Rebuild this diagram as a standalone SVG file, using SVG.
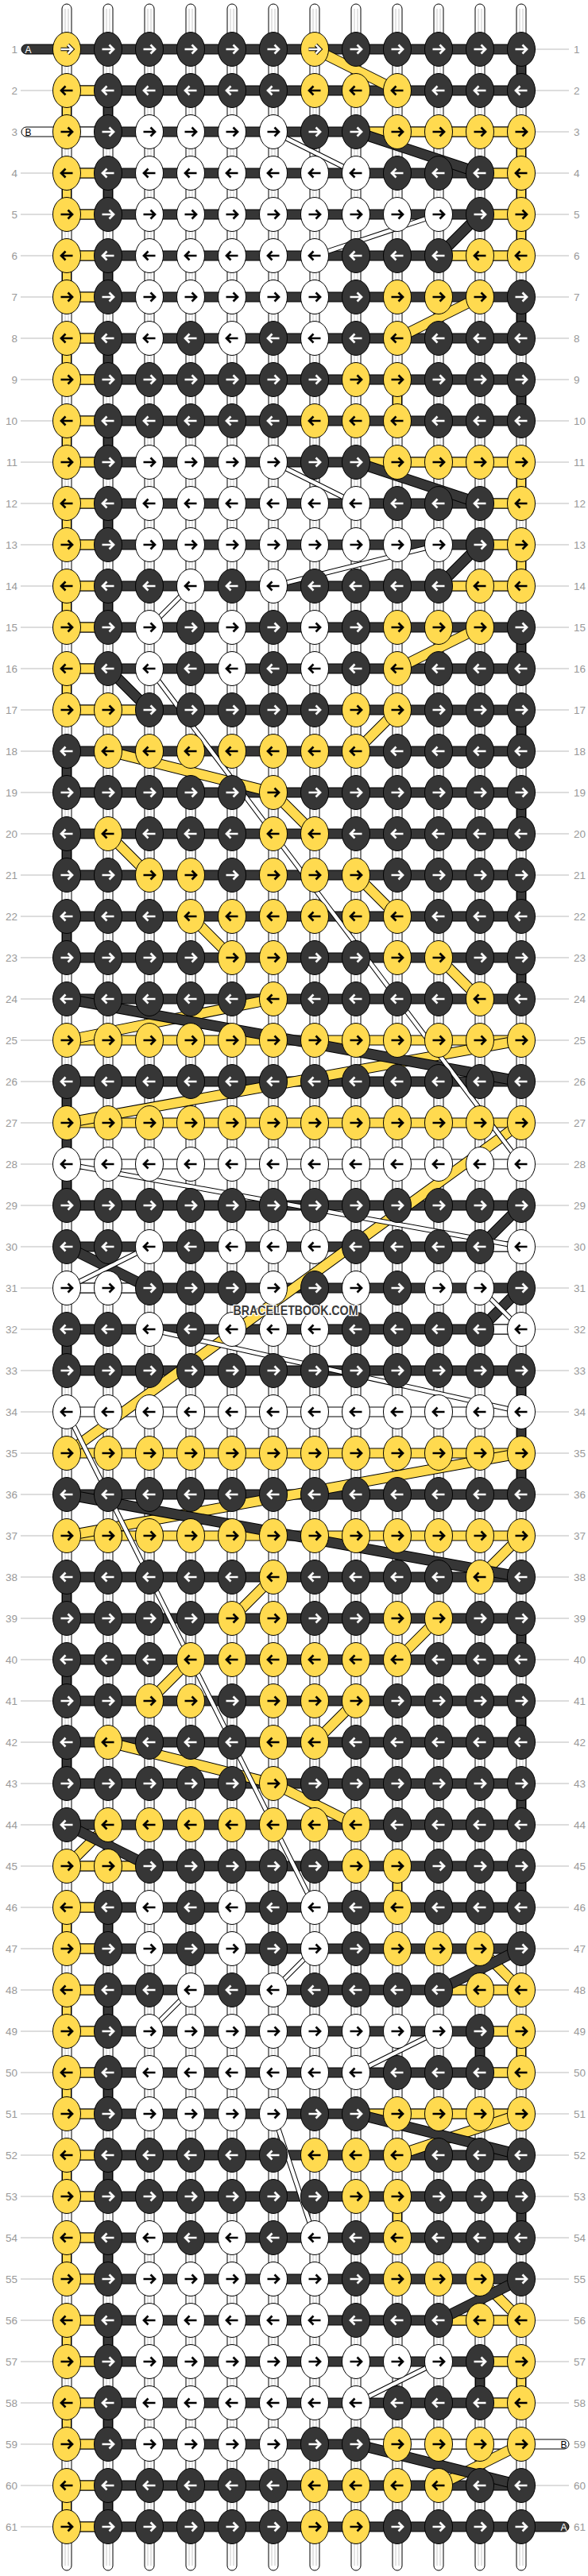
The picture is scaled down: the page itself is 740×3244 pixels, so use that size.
<svg xmlns="http://www.w3.org/2000/svg" xmlns:xlink="http://www.w3.org/1999/xlink" width="740" height="3244" viewBox="0 0 740 3244">
<style>
.vs{fill:#fff;stroke:#000;stroke-width:1}
.vg{fill:none;stroke:#c8c8c8;stroke-width:1}
.bD{fill:#363636;stroke:#000;stroke-width:1}
.bY{fill:#FFDA4F;stroke:#000;stroke-width:1}
.bW{fill:#fff;stroke:#000;stroke-width:1}
.oT{fill:none;stroke:#000;stroke-width:13.5}
.cY{fill:none;stroke:#FFDA4F;stroke-width:11.5}
.cD{fill:none;stroke:#363636;stroke-width:11.5}
.oW{fill:none;stroke:#000;stroke-width:6.5}
.cW{fill:none;stroke:#fff;stroke-width:4.5}
.eY{fill:#FFDA4F;stroke:#000;stroke-width:1}
.eD{fill:#363636;stroke:#000;stroke-width:1}
.eW{fill:#fff;stroke:#000;stroke-width:1}
.ak{fill:none;stroke:#000;stroke-width:2.7}
.aw{fill:none;stroke:#fff;stroke-width:2.7}
.ao{fill:none;stroke:#000;stroke-width:4.6}
.gl{fill:none;stroke:#bbb;stroke-width:1}
.lbl{font-family:"Liberation Sans",Arial,sans-serif;font-size:13.5px;fill:#999}
.sl{font-family:"Liberation Sans",Arial,sans-serif;font-size:12px}
.wm{font-family:"Liberation Sans",Arial,sans-serif;font-size:17px;font-weight:bold;fill:#3a3a3a;stroke:#fff;stroke-width:2.5;paint-order:stroke}
</style>
<defs>
<path id="R" d="M-7.5,0H6M1.5,-5.5L7,0L1.5,5.5"/>
<path id="L" d="M7.5,0H-6M-1.5,-5.5L-7,0L-1.5,5.5"/>
<g id="YR"><ellipse class="eY" rx="17.5" ry="21.5"/><use href="#R" class="ak"/></g>
<g id="YL"><ellipse class="eY" rx="17.5" ry="21.5"/><use href="#L" class="ak"/></g>
<g id="DR"><ellipse class="eD" rx="17.5" ry="21.5"/><use href="#R" class="aw"/></g>
<g id="DL"><ellipse class="eD" rx="17.5" ry="21.5"/><use href="#L" class="aw"/></g>
<g id="WR"><ellipse class="eW" rx="17.5" ry="21.5"/><use href="#R" class="ak"/></g>
<g id="WL"><ellipse class="eW" rx="17.5" ry="21.5"/><use href="#L" class="ak"/></g>
<g id="YRw"><ellipse class="eY" rx="17.5" ry="21.5"/><use href="#R" class="ao"/><use href="#R" class="aw"/></g>
</defs>
<rect width="740" height="3244" fill="#fff"/>
<g id="labels">
<path class="gl" d="M26,114H66M26,218H66M26,270H66M26,322H66M26,374H66M26,426H66M26,478H66M26,530H66M26,582H66M26,634H66M26,686H66M26,738H66M26,790H66M26,842H66M26,894H66M26,946H66M26,998H66M26,1050H66M26,1102H66M26,1154H66M26,1206H66M26,1258H66M26,1310H66M26,1362H66M26,1414H66M26,1466H66M26,1518H66M26,1570H66M26,1622H66M26,1674H66M26,1726H66M26,1778H66M26,1830H66M26,1882H66M26,1934H66M26,1986H66M26,2038H66M26,2090H66M26,2142H66M26,2194H66M26,2246H66M26,2298H66M26,2350H66M26,2402H66M26,2454H66M26,2506H66M26,2558H66M26,2610H66M26,2662H66M26,2714H66M26,2766H66M26,2818H66M26,2870H66M26,2922H66M26,2974H66M26,3026H66M26,3078H66M26,3130H66M26,3182H66
M674,62H716M674,114H716M674,166H716M674,218H716M674,270H716M674,322H716M674,374H716M674,426H716M674,478H716M674,530H716M674,582H716M674,634H716M674,686H716M674,738H716M674,790H716M674,842H716M674,894H716M674,946H716M674,998H716M674,1050H716M674,1102H716M674,1154H716M674,1206H716M674,1258H716M674,1310H716M674,1362H716M674,1414H716M674,1466H716M674,1518H716M674,1570H716M674,1622H716M674,1674H716M674,1726H716M674,1778H716M674,1830H716M674,1882H716M674,1934H716M674,1986H716M674,2038H716M674,2090H716M674,2142H716M674,2194H716M674,2246H716M674,2298H716M674,2350H716M674,2402H716M674,2454H716M674,2506H716M674,2558H716M674,2610H716M674,2662H716M674,2714H716M674,2766H716M674,2818H716M674,2870H716M674,2922H716M674,2974H716M674,3026H716M674,3130H716"/>
<g class="lbl" text-anchor="end">
<text x="22" y="67">1</text><text x="22" y="119">2</text><text x="22" y="171">3</text><text x="22" y="223">4</text><text x="22" y="275">5</text><text x="22" y="327">6</text><text x="22" y="379">7</text><text x="22" y="431">8</text><text x="22" y="483">9</text><text x="22" y="535">10</text>
<text x="22" y="587">11</text><text x="22" y="639">12</text><text x="22" y="691">13</text><text x="22" y="743">14</text><text x="22" y="795">15</text><text x="22" y="847">16</text><text x="22" y="899">17</text><text x="22" y="951">18</text><text x="22" y="1003">19</text><text x="22" y="1055">20</text>
<text x="22" y="1107">21</text><text x="22" y="1159">22</text><text x="22" y="1211">23</text><text x="22" y="1263">24</text><text x="22" y="1315">25</text><text x="22" y="1367">26</text><text x="22" y="1419">27</text><text x="22" y="1471">28</text><text x="22" y="1523">29</text><text x="22" y="1575">30</text>
<text x="22" y="1627">31</text><text x="22" y="1679">32</text><text x="22" y="1731">33</text><text x="22" y="1783">34</text><text x="22" y="1835">35</text><text x="22" y="1887">36</text><text x="22" y="1939">37</text><text x="22" y="1991">38</text><text x="22" y="2043">39</text><text x="22" y="2095">40</text>
<text x="22" y="2147">41</text><text x="22" y="2199">42</text><text x="22" y="2251">43</text><text x="22" y="2303">44</text><text x="22" y="2355">45</text><text x="22" y="2407">46</text><text x="22" y="2459">47</text><text x="22" y="2511">48</text><text x="22" y="2563">49</text><text x="22" y="2615">50</text>
<text x="22" y="2667">51</text><text x="22" y="2719">52</text><text x="22" y="2771">53</text><text x="22" y="2823">54</text><text x="22" y="2875">55</text><text x="22" y="2927">56</text><text x="22" y="2979">57</text><text x="22" y="3031">58</text><text x="22" y="3083">59</text><text x="22" y="3135">60</text><text x="22" y="3187">61</text>
</g>
<g class="lbl">
<text x="722" y="67">1</text><text x="722" y="119">2</text><text x="722" y="171">3</text><text x="722" y="223">4</text><text x="722" y="275">5</text><text x="722" y="327">6</text><text x="722" y="379">7</text><text x="722" y="431">8</text><text x="722" y="483">9</text><text x="722" y="535">10</text>
<text x="722" y="587">11</text><text x="722" y="639">12</text><text x="722" y="691">13</text><text x="722" y="743">14</text><text x="722" y="795">15</text><text x="722" y="847">16</text><text x="722" y="899">17</text><text x="722" y="951">18</text><text x="722" y="1003">19</text><text x="722" y="1055">20</text>
<text x="722" y="1107">21</text><text x="722" y="1159">22</text><text x="722" y="1211">23</text><text x="722" y="1263">24</text><text x="722" y="1315">25</text><text x="722" y="1367">26</text><text x="722" y="1419">27</text><text x="722" y="1471">28</text><text x="722" y="1523">29</text><text x="722" y="1575">30</text>
<text x="722" y="1627">31</text><text x="722" y="1679">32</text><text x="722" y="1731">33</text><text x="722" y="1783">34</text><text x="722" y="1835">35</text><text x="722" y="1887">36</text><text x="722" y="1939">37</text><text x="722" y="1991">38</text><text x="722" y="2043">39</text><text x="722" y="2095">40</text>
<text x="722" y="2147">41</text><text x="722" y="2199">42</text><text x="722" y="2251">43</text><text x="722" y="2303">44</text><text x="722" y="2355">45</text><text x="722" y="2407">46</text><text x="722" y="2459">47</text><text x="722" y="2511">48</text><text x="722" y="2563">49</text><text x="722" y="2615">50</text>
<text x="722" y="2667">51</text><text x="722" y="2719">52</text><text x="722" y="2771">53</text><text x="722" y="2823">54</text><text x="722" y="2875">55</text><text x="722" y="2927">56</text><text x="722" y="2979">57</text><text x="722" y="3031">58</text><text x="722" y="3083">59</text><text x="722" y="3135">60</text><text x="722" y="3187">61</text>
</g>
</g>
<g id="connectors">
<g id="strings">
<rect class="vs" x="78" y="5" width="12" height="3232" rx="6"/><rect class="vs" x="130" y="5" width="12" height="3232" rx="6"/><rect class="vs" x="182" y="5" width="12" height="3232" rx="6"/><rect class="vs" x="234" y="5" width="12" height="3232" rx="6"/><rect class="vs" x="286" y="5" width="12" height="3232" rx="6"/><rect class="vs" x="338" y="5" width="12" height="3232" rx="6"/><rect class="vs" x="390" y="5" width="12" height="3232" rx="6"/><rect class="vs" x="442" y="5" width="12" height="3232" rx="6"/><rect class="vs" x="494" y="5" width="12" height="3232" rx="6"/><rect class="vs" x="546" y="5" width="12" height="3232" rx="6"/><rect class="vs" x="598" y="5" width="12" height="3232" rx="6"/><rect class="vs" x="650" y="5" width="12" height="3232" rx="6"/>
<path class="vg" d="M82,11V3231M86,11V3231M134,11V3231M138,11V3231M186,11V3231M190,11V3231M238,11V3231M242,11V3231M290,11V3231M294,11V3231M342,11V3231M346,11V3231M394,11V3231M398,11V3231M446,11V3231M450,11V3231M498,11V3231M502,11V3231M550,11V3231M554,11V3231M602,11V3231M606,11V3231M654,11V3231M658,11V3231"/>
</g>
<g id="ends">
<rect class="bD" x="27" y="56" width="62" height="12" rx="6"/>
<rect class="bW" x="27" y="160" width="62" height="12" rx="6"/>
<rect class="bW" x="651" y="3072" width="65" height="12" rx="6"/>
<rect class="bD" x="651" y="3176" width="65" height="12" rx="6"/>
<text class="sl" x="31.5" y="66.5" fill="#fff">A</text>
<text class="sl" x="31.5" y="170.5" fill="#000">B</text>
<text class="sl" x="705.5" y="3082.5" fill="#000">B</text>
<text class="sl" x="705.5" y="3186.5" fill="#fff">A</text>
</g>
<g id="rows">
<path class="bD" d="M84,56h572v12h-572zM84,108h572v12h-572zM84,160h572v12h-572zM84,212h572v12h-572zM84,264h572v12h-572zM84,316h572v12h-572zM84,368h572v12h-572zM84,420h572v12h-572zM84,472h572v12h-572zM84,524h572v12h-572zM84,576h572v12h-572zM84,628h572v12h-572zM84,680h572v12h-572zM84,732h572v12h-572zM84,784h572v12h-572zM84,836h572v12h-572zM84,888h572v12h-572zM84,940h572v12h-572zM84,992h572v12h-572zM84,1044h572v12h-572zM84,1096h572v12h-572zM84,1148h572v12h-572zM84,1200h572v12h-572zM84,1252h572v12h-572zM84,1356h572v12h-572zM84,1512h572v12h-572zM84,1564h572v12h-572zM84,1616h572v12h-572zM84,1668h572v12h-572zM84,1720h572v12h-572zM84,1876h572v12h-572zM84,1980h572v12h-572zM84,2032h572v12h-572zM84,2084h572v12h-572zM84,2136h572v12h-572zM84,2188h572v12h-572zM84,2240h572v12h-572zM84,2292h572v12h-572zM84,2344h572v12h-572zM84,2396h572v12h-572zM84,2448h572v12h-572zM84,2500h572v12h-572zM84,2552h572v12h-572zM84,2604h572v12h-572zM84,2656h572v12h-572zM84,2708h572v12h-572zM84,2760h572v12h-572zM84,2812h572v12h-572zM84,2864h572v12h-572zM84,2916h572v12h-572zM84,2968h572v12h-572zM84,3020h572v12h-572zM84,3072h572v12h-572zM84,3124h572v12h-572zM84,3176h572v12h-572z"/>
<path class="bY" d="M84,1304h572v12h-572zM84,1408h572v12h-572zM84,1824h572v12h-572zM84,1928h572v12h-572z
M84,108h52v12h-52zM448,160h208v12h-208zM84,212h52v12h-52zM604,212h52v12h-52zM84,264h52v12h-52zM604,264h52v12h-52zM84,316h52v12h-52zM552,316h104v12h-104zM84,368h52v12h-52zM84,420h52v12h-52zM84,472h52v12h-52zM84,524h52v12h-52zM84,576h52v12h-52zM448,576h208v12h-208zM84,628h52v12h-52zM604,628h52v12h-52zM84,680h52v12h-52zM604,680h52v12h-52zM84,732h52v12h-52zM552,732h104v12h-104zM84,784h52v12h-52zM84,836h52v12h-52zM84,888h104v12h-104z
M84,2344h104v12h-104zM84,2396h52v12h-52zM84,2448h52v12h-52zM84,2500h52v12h-52zM552,2500h104v12h-104zM84,2552h52v12h-52zM604,2552h52v12h-52zM84,2604h52v12h-52zM604,2604h52v12h-52zM84,2656h52v12h-52zM448,2656h208v12h-208zM84,2708h52v12h-52zM84,2760h52v12h-52zM84,2812h52v12h-52zM84,2864h52v12h-52zM84,2916h52v12h-52zM552,2916h104v12h-104zM84,2968h52v12h-52zM604,2968h52v12h-52zM84,3020h52v12h-52zM604,3020h52v12h-52zM84,3072h52v12h-52zM84,3124h52v12h-52zM84,3176h52v12h-52z"/>
<path class="bW" d="M84,1460h572v12h-572zM84,1772h572v12h-572zM84,160h52v12h-52zM604,1564h52v12h-52zM84,1616h104v12h-104zM604,1668h52v12h-52zM448,3072h208v12h-208z"/>
</g>
<g id="stubs">
<path class="bY" d="M78.5,114h11v52h-11zM78.5,218h11v52h-11zM78.5,322h11v52h-11zM78.5,426h11v52h-11zM78.5,530h11v52h-11zM78.5,634h11v52h-11zM78.5,738h11v52h-11zM78.5,842h11v52h-11zM78.5,2402h11v52h-11zM78.5,2506h11v52h-11zM78.5,2610h11v52h-11zM78.5,2714h11v52h-11zM78.5,2818h11v52h-11zM78.5,2922h11v52h-11zM78.5,3026h11v52h-11zM78.5,3130h11v52h-11z
M650.5,166h11v52h-11zM650.5,218h11v52h-11zM650.5,270h11v52h-11zM650.5,582h11v52h-11zM650.5,686h11v52h-11zM650.5,2558h11v52h-11zM650.5,2974h11v52h-11z
M494.5,478h11v52h-11zM494.5,2350h11v52h-11zM494.5,2766h11v52h-11z"/>
<path class="bD" d="M130.5,114h11v52h-11zM130.5,218h11v52h-11zM130.5,322h11v52h-11zM130.5,426h11v52h-11zM130.5,530h11v52h-11zM130.5,634h11v52h-11zM130.5,738h11v52h-11zM130.5,2402h11v52h-11zM130.5,2506h11v52h-11zM130.5,2610h11v52h-11zM130.5,2714h11v52h-11zM130.5,2818h11v52h-11zM130.5,2922h11v52h-11zM130.5,3026h11v52h-11zM130.5,3130h11v52h-11z
M78.5,946h11v52h-11zM78.5,1050h11v52h-11zM78.5,1154h11v52h-11zM78.5,1362h11v52h-11zM78.5,1414h11v52h-11zM78.5,1466h11v52h-11zM78.5,1674h11v52h-11zM78.5,1986h11v52h-11zM78.5,2090h11v52h-11zM78.5,2194h11v52h-11z
M650.5,62h11v52h-11zM650.5,374h11v52h-11zM650.5,478h11v52h-11zM650.5,790h11v52h-11zM650.5,894h11v52h-11zM650.5,998h11v52h-11zM650.5,1102h11v52h-11zM650.5,1206h11v52h-11zM650.5,1726h11v52h-11zM650.5,1778h11v52h-11zM650.5,1830h11v52h-11zM650.5,2038h11v52h-11zM650.5,2142h11v52h-11zM650.5,2246h11v52h-11zM650.5,2350h11v52h-11zM650.5,2766h11v52h-11z
M598.5,2558h11v52h-11zM598.5,2974h11v52h-11z"/>
</g>
<g id="diagonals">
<path class="oT" d="M396,62L500,114M604,374L500,426M604,790L500,842M500,894L448,946M136,946L344,998M344,998L396,1050M136,1050L188,1102M448,1102L500,1154M240,1154L292,1206M552,1206L604,1258M84,1310L344,1258M84,1414L656,1310M656,1414L84,1830M656,1830L84,1934M656,1934L604,1986M292,2038L344,1986M500,2090L552,2038M240,2090L188,2142M448,2142L396,2194M136,2194L344,2246M344,2246L448,2298M84,2350L136,2298M604,2454L656,2506M500,2714L656,2662M604,2870L656,2922M552,3130L656,3078"/>
<path class="cY" d="M396,62L500,114M604,374L500,426M604,790L500,842M500,894L448,946M136,946L344,998M344,998L396,1050M136,1050L188,1102M448,1102L500,1154M240,1154L292,1206M552,1206L604,1258M84,1310L344,1258M84,1414L656,1310M656,1414L84,1830M656,1830L84,1934M656,1934L604,1986M292,2038L344,1986M500,2090L552,2038M240,2090L188,2142M448,2142L396,2194M136,2194L344,2246M344,2246L448,2298M84,2350L136,2298M604,2454L656,2506M500,2714L656,2662M604,2870L656,2922M552,3130L656,3078"/>
<path class="oT" d="M448,166L604,218M604,270L552,322M448,582L604,634M604,686L552,738M136,842L188,894M84,1258L656,1362M656,1518L604,1570M84,1570L188,1622M656,1622L604,1674M84,1882L656,1986M84,2298L188,2350M656,2454L552,2506M448,2662L656,2714M656,2870L552,2922M448,3078L656,3130"/>
<path class="cD" d="M448,166L604,218M604,270L552,322M448,582L604,634M604,686L552,738M136,842L188,894M84,1258L656,1362M656,1518L604,1570M84,1570L188,1622M656,1622L604,1674M84,1882L656,1986M84,2298L188,2350M656,2454L552,2506M448,2662L656,2714M656,2870L552,2922M448,3078L656,3130"/>
<path class="oW" d="M344,166L448,218M552,270L396,322M344,582L448,634M552,686L344,738M240,738L188,790M188,842L656,1466M84,1466L656,1570M84,1622L188,1570M604,1622L656,1674M188,1674L656,1778M84,1778L396,2402M396,2454L344,2506M240,2506L188,2558M552,2558L448,2610M344,2662L396,2818M552,2974L448,3026"/>
<path class="cW" d="M344,166L448,218M552,270L396,322M344,582L448,634M552,686L344,738M240,738L188,790M188,842L656,1466M84,1466L656,1570M84,1622L188,1570M604,1622L656,1674M188,1674L656,1778M84,1778L396,2402M396,2454L344,2506M240,2506L188,2558M552,2558L448,2610M344,2662L396,2818M552,2974L448,3026"/>
</g>
</g>
<g id="knots">
<g id="k1-1"><use href="#YRw" x="84" y="62"/></g><g id="k1-2"><use href="#DR" x="136" y="62"/></g><g id="k1-3"><use href="#DR" x="188" y="62"/></g><g id="k1-4"><use href="#DR" x="240" y="62"/></g><g id="k1-5"><use href="#DR" x="292" y="62"/></g><g id="k1-6"><use href="#DR" x="344" y="62"/></g><g id="k1-7"><use href="#YRw" x="396" y="62"/></g><g id="k1-8"><use href="#DR" x="448" y="62"/></g><g id="k1-9"><use href="#DR" x="500" y="62"/></g><g id="k1-10"><use href="#DR" x="552" y="62"/></g><g id="k1-11"><use href="#DR" x="604" y="62"/></g><g id="k1-12"><use href="#DR" x="656" y="62"/></g>
<g id="k2-1"><use href="#YL" x="84" y="114"/></g><g id="k2-2"><use href="#DL" x="136" y="114"/></g><g id="k2-3"><use href="#DL" x="188" y="114"/></g><g id="k2-4"><use href="#DL" x="240" y="114"/></g><g id="k2-5"><use href="#DL" x="292" y="114"/></g><g id="k2-6"><use href="#DL" x="344" y="114"/></g><g id="k2-7"><use href="#YL" x="396" y="114"/></g><g id="k2-8"><use href="#YL" x="448" y="114"/></g><g id="k2-9"><use href="#YL" x="500" y="114"/></g><g id="k2-10"><use href="#DL" x="552" y="114"/></g><g id="k2-11"><use href="#DL" x="604" y="114"/></g><g id="k2-12"><use href="#DL" x="656" y="114"/></g>
<g id="k3-1"><use href="#YR" x="84" y="166"/></g><g id="k3-2"><use href="#DR" x="136" y="166"/></g><g id="k3-3"><use href="#WR" x="188" y="166"/></g><g id="k3-4"><use href="#WR" x="240" y="166"/></g><g id="k3-5"><use href="#WR" x="292" y="166"/></g><g id="k3-6"><use href="#WR" x="344" y="166"/></g><g id="k3-7"><use href="#DR" x="396" y="166"/></g><g id="k3-8"><use href="#DR" x="448" y="166"/></g><g id="k3-9"><use href="#YR" x="500" y="166"/></g><g id="k3-10"><use href="#YR" x="552" y="166"/></g><g id="k3-11"><use href="#YR" x="604" y="166"/></g><g id="k3-12"><use href="#YR" x="656" y="166"/></g>
<g id="k4-1"><use href="#YL" x="84" y="218"/></g><g id="k4-2"><use href="#DL" x="136" y="218"/></g><g id="k4-3"><use href="#WL" x="188" y="218"/></g><g id="k4-4"><use href="#WL" x="240" y="218"/></g><g id="k4-5"><use href="#WL" x="292" y="218"/></g><g id="k4-6"><use href="#WL" x="344" y="218"/></g><g id="k4-7"><use href="#WL" x="396" y="218"/></g><g id="k4-8"><use href="#WL" x="448" y="218"/></g><g id="k4-9"><use href="#DL" x="500" y="218"/></g><g id="k4-10"><use href="#DL" x="552" y="218"/></g><g id="k4-11"><use href="#DL" x="604" y="218"/></g><g id="k4-12"><use href="#YL" x="656" y="218"/></g>
<g id="k5-1"><use href="#YR" x="84" y="270"/></g><g id="k5-2"><use href="#DR" x="136" y="270"/></g><g id="k5-3"><use href="#WR" x="188" y="270"/></g><g id="k5-4"><use href="#WR" x="240" y="270"/></g><g id="k5-5"><use href="#WR" x="292" y="270"/></g><g id="k5-6"><use href="#WR" x="344" y="270"/></g><g id="k5-7"><use href="#WR" x="396" y="270"/></g><g id="k5-8"><use href="#WR" x="448" y="270"/></g><g id="k5-9"><use href="#WR" x="500" y="270"/></g><g id="k5-10"><use href="#WR" x="552" y="270"/></g><g id="k5-11"><use href="#DR" x="604" y="270"/></g><g id="k5-12"><use href="#YR" x="656" y="270"/></g>
<g id="k6-1"><use href="#YL" x="84" y="322"/></g><g id="k6-2"><use href="#DL" x="136" y="322"/></g><g id="k6-3"><use href="#WL" x="188" y="322"/></g><g id="k6-4"><use href="#WL" x="240" y="322"/></g><g id="k6-5"><use href="#WL" x="292" y="322"/></g><g id="k6-6"><use href="#WL" x="344" y="322"/></g><g id="k6-7"><use href="#WL" x="396" y="322"/></g><g id="k6-8"><use href="#DL" x="448" y="322"/></g><g id="k6-9"><use href="#DL" x="500" y="322"/></g><g id="k6-10"><use href="#DL" x="552" y="322"/></g><g id="k6-11"><use href="#YL" x="604" y="322"/></g><g id="k6-12"><use href="#YL" x="656" y="322"/></g>
<g id="k7-1"><use href="#YR" x="84" y="374"/></g><g id="k7-2"><use href="#DR" x="136" y="374"/></g><g id="k7-3"><use href="#WR" x="188" y="374"/></g><g id="k7-4"><use href="#WR" x="240" y="374"/></g><g id="k7-5"><use href="#WR" x="292" y="374"/></g><g id="k7-6"><use href="#WR" x="344" y="374"/></g><g id="k7-7"><use href="#WR" x="396" y="374"/></g><g id="k7-8"><use href="#DR" x="448" y="374"/></g><g id="k7-9"><use href="#YR" x="500" y="374"/></g><g id="k7-10"><use href="#YR" x="552" y="374"/></g><g id="k7-11"><use href="#YR" x="604" y="374"/></g><g id="k7-12"><use href="#DR" x="656" y="374"/></g>
<g id="k8-1"><use href="#YL" x="84" y="426"/></g><g id="k8-2"><use href="#DL" x="136" y="426"/></g><g id="k8-3"><use href="#WL" x="188" y="426"/></g><g id="k8-4"><use href="#DL" x="240" y="426"/></g><g id="k8-5"><use href="#WL" x="292" y="426"/></g><g id="k8-6"><use href="#DL" x="344" y="426"/></g><g id="k8-7"><use href="#WL" x="396" y="426"/></g><g id="k8-8"><use href="#DL" x="448" y="426"/></g><g id="k8-9"><use href="#YL" x="500" y="426"/></g><g id="k8-10"><use href="#DL" x="552" y="426"/></g><g id="k8-11"><use href="#DL" x="604" y="426"/></g><g id="k8-12"><use href="#DL" x="656" y="426"/></g>
<g id="k9-1"><use href="#YR" x="84" y="478"/></g><g id="k9-2"><use href="#DR" x="136" y="478"/></g><g id="k9-3"><use href="#DR" x="188" y="478"/></g><g id="k9-4"><use href="#DR" x="240" y="478"/></g><g id="k9-5"><use href="#DR" x="292" y="478"/></g><g id="k9-6"><use href="#DR" x="344" y="478"/></g><g id="k9-7"><use href="#DR" x="396" y="478"/></g><g id="k9-8"><use href="#YR" x="448" y="478"/></g><g id="k9-9"><use href="#YR" x="500" y="478"/></g><g id="k9-10"><use href="#DR" x="552" y="478"/></g><g id="k9-11"><use href="#DR" x="604" y="478"/></g><g id="k9-12"><use href="#DR" x="656" y="478"/></g>
<g id="k10-1"><use href="#YL" x="84" y="530"/></g><g id="k10-2"><use href="#DL" x="136" y="530"/></g><g id="k10-3"><use href="#DL" x="188" y="530"/></g><g id="k10-4"><use href="#DL" x="240" y="530"/></g><g id="k10-5"><use href="#DL" x="292" y="530"/></g><g id="k10-6"><use href="#DL" x="344" y="530"/></g><g id="k10-7"><use href="#YL" x="396" y="530"/></g><g id="k10-8"><use href="#YL" x="448" y="530"/></g><g id="k10-9"><use href="#YL" x="500" y="530"/></g><g id="k10-10"><use href="#DL" x="552" y="530"/></g><g id="k10-11"><use href="#DL" x="604" y="530"/></g><g id="k10-12"><use href="#DL" x="656" y="530"/></g>
<g id="k11-1"><use href="#YR" x="84" y="582"/></g><g id="k11-2"><use href="#DR" x="136" y="582"/></g><g id="k11-3"><use href="#WR" x="188" y="582"/></g><g id="k11-4"><use href="#WR" x="240" y="582"/></g><g id="k11-5"><use href="#WR" x="292" y="582"/></g><g id="k11-6"><use href="#WR" x="344" y="582"/></g><g id="k11-7"><use href="#DR" x="396" y="582"/></g><g id="k11-8"><use href="#DR" x="448" y="582"/></g><g id="k11-9"><use href="#YR" x="500" y="582"/></g><g id="k11-10"><use href="#YR" x="552" y="582"/></g><g id="k11-11"><use href="#YR" x="604" y="582"/></g><g id="k11-12"><use href="#YR" x="656" y="582"/></g>
<g id="k12-1"><use href="#YL" x="84" y="634"/></g><g id="k12-2"><use href="#DL" x="136" y="634"/></g><g id="k12-3"><use href="#WL" x="188" y="634"/></g><g id="k12-4"><use href="#WL" x="240" y="634"/></g><g id="k12-5"><use href="#WL" x="292" y="634"/></g><g id="k12-6"><use href="#WL" x="344" y="634"/></g><g id="k12-7"><use href="#WL" x="396" y="634"/></g><g id="k12-8"><use href="#WL" x="448" y="634"/></g><g id="k12-9"><use href="#DL" x="500" y="634"/></g><g id="k12-10"><use href="#DL" x="552" y="634"/></g><g id="k12-11"><use href="#DL" x="604" y="634"/></g><g id="k12-12"><use href="#YL" x="656" y="634"/></g>
<g id="k13-1"><use href="#YR" x="84" y="686"/></g><g id="k13-2"><use href="#DR" x="136" y="686"/></g><g id="k13-3"><use href="#WR" x="188" y="686"/></g><g id="k13-4"><use href="#WR" x="240" y="686"/></g><g id="k13-5"><use href="#WR" x="292" y="686"/></g><g id="k13-6"><use href="#WR" x="344" y="686"/></g><g id="k13-7"><use href="#WR" x="396" y="686"/></g><g id="k13-8"><use href="#WR" x="448" y="686"/></g><g id="k13-9"><use href="#WR" x="500" y="686"/></g><g id="k13-10"><use href="#WR" x="552" y="686"/></g><g id="k13-11"><use href="#DR" x="604" y="686"/></g><g id="k13-12"><use href="#YR" x="656" y="686"/></g>
<g id="k14-1"><use href="#YL" x="84" y="738"/></g><g id="k14-2"><use href="#DL" x="136" y="738"/></g><g id="k14-3"><use href="#DL" x="188" y="738"/></g><g id="k14-4"><use href="#WL" x="240" y="738"/></g><g id="k14-5"><use href="#DL" x="292" y="738"/></g><g id="k14-6"><use href="#WL" x="344" y="738"/></g><g id="k14-7"><use href="#DL" x="396" y="738"/></g><g id="k14-8"><use href="#DL" x="448" y="738"/></g><g id="k14-9"><use href="#DL" x="500" y="738"/></g><g id="k14-10"><use href="#DL" x="552" y="738"/></g><g id="k14-11"><use href="#YL" x="604" y="738"/></g><g id="k14-12"><use href="#YL" x="656" y="738"/></g>
<g id="k15-1"><use href="#YR" x="84" y="790"/></g><g id="k15-2"><use href="#DR" x="136" y="790"/></g><g id="k15-3"><use href="#WR" x="188" y="790"/></g><g id="k15-4"><use href="#DR" x="240" y="790"/></g><g id="k15-5"><use href="#WR" x="292" y="790"/></g><g id="k15-6"><use href="#DR" x="344" y="790"/></g><g id="k15-7"><use href="#WR" x="396" y="790"/></g><g id="k15-8"><use href="#DR" x="448" y="790"/></g><g id="k15-9"><use href="#YR" x="500" y="790"/></g><g id="k15-10"><use href="#YR" x="552" y="790"/></g><g id="k15-11"><use href="#YR" x="604" y="790"/></g><g id="k15-12"><use href="#DR" x="656" y="790"/></g>
<g id="k16-1"><use href="#YL" x="84" y="842"/></g><g id="k16-2"><use href="#DL" x="136" y="842"/></g><g id="k16-3"><use href="#WL" x="188" y="842"/></g><g id="k16-4"><use href="#DL" x="240" y="842"/></g><g id="k16-5"><use href="#WL" x="292" y="842"/></g><g id="k16-6"><use href="#DL" x="344" y="842"/></g><g id="k16-7"><use href="#WL" x="396" y="842"/></g><g id="k16-8"><use href="#DL" x="448" y="842"/></g><g id="k16-9"><use href="#YL" x="500" y="842"/></g><g id="k16-10"><use href="#DL" x="552" y="842"/></g><g id="k16-11"><use href="#DL" x="604" y="842"/></g><g id="k16-12"><use href="#DL" x="656" y="842"/></g>
<g id="k17-1"><use href="#YR" x="84" y="894"/></g><g id="k17-2"><use href="#YR" x="136" y="894"/></g><g id="k17-3"><use href="#DR" x="188" y="894"/></g><g id="k17-4"><use href="#DR" x="240" y="894"/></g><g id="k17-5"><use href="#DR" x="292" y="894"/></g><g id="k17-6"><use href="#DR" x="344" y="894"/></g><g id="k17-7"><use href="#DR" x="396" y="894"/></g><g id="k17-8"><use href="#YR" x="448" y="894"/></g><g id="k17-9"><use href="#YR" x="500" y="894"/></g><g id="k17-10"><use href="#DR" x="552" y="894"/></g><g id="k17-11"><use href="#DR" x="604" y="894"/></g><g id="k17-12"><use href="#DR" x="656" y="894"/></g>
<g id="k18-1"><use href="#DL" x="84" y="946"/></g><g id="k18-2"><use href="#YL" x="136" y="946"/></g><g id="k18-3"><use href="#YL" x="188" y="946"/></g><g id="k18-4"><use href="#YL" x="240" y="946"/></g><g id="k18-5"><use href="#YL" x="292" y="946"/></g><g id="k18-6"><use href="#YL" x="344" y="946"/></g><g id="k18-7"><use href="#YL" x="396" y="946"/></g><g id="k18-8"><use href="#YL" x="448" y="946"/></g><g id="k18-9"><use href="#DL" x="500" y="946"/></g><g id="k18-10"><use href="#DL" x="552" y="946"/></g><g id="k18-11"><use href="#DL" x="604" y="946"/></g><g id="k18-12"><use href="#DL" x="656" y="946"/></g>
<g id="k19-1"><use href="#DR" x="84" y="998"/></g><g id="k19-2"><use href="#DR" x="136" y="998"/></g><g id="k19-3"><use href="#DR" x="188" y="998"/></g><g id="k19-4"><use href="#DR" x="240" y="998"/></g><g id="k19-5"><use href="#DR" x="292" y="998"/></g><g id="k19-6"><use href="#YR" x="344" y="998"/></g><g id="k19-7"><use href="#DR" x="396" y="998"/></g><g id="k19-8"><use href="#DR" x="448" y="998"/></g><g id="k19-9"><use href="#DR" x="500" y="998"/></g><g id="k19-10"><use href="#DR" x="552" y="998"/></g><g id="k19-11"><use href="#DR" x="604" y="998"/></g><g id="k19-12"><use href="#DR" x="656" y="998"/></g>
<g id="k20-1"><use href="#DL" x="84" y="1050"/></g><g id="k20-2"><use href="#YL" x="136" y="1050"/></g><g id="k20-3"><use href="#DL" x="188" y="1050"/></g><g id="k20-4"><use href="#DL" x="240" y="1050"/></g><g id="k20-5"><use href="#DL" x="292" y="1050"/></g><g id="k20-6"><use href="#YL" x="344" y="1050"/></g><g id="k20-7"><use href="#YL" x="396" y="1050"/></g><g id="k20-8"><use href="#DL" x="448" y="1050"/></g><g id="k20-9"><use href="#DL" x="500" y="1050"/></g><g id="k20-10"><use href="#DL" x="552" y="1050"/></g><g id="k20-11"><use href="#DL" x="604" y="1050"/></g><g id="k20-12"><use href="#DL" x="656" y="1050"/></g>
<g id="k21-1"><use href="#DR" x="84" y="1102"/></g><g id="k21-2"><use href="#DR" x="136" y="1102"/></g><g id="k21-3"><use href="#YR" x="188" y="1102"/></g><g id="k21-4"><use href="#YR" x="240" y="1102"/></g><g id="k21-5"><use href="#DR" x="292" y="1102"/></g><g id="k21-6"><use href="#YR" x="344" y="1102"/></g><g id="k21-7"><use href="#YR" x="396" y="1102"/></g><g id="k21-8"><use href="#YR" x="448" y="1102"/></g><g id="k21-9"><use href="#DR" x="500" y="1102"/></g><g id="k21-10"><use href="#DR" x="552" y="1102"/></g><g id="k21-11"><use href="#DR" x="604" y="1102"/></g><g id="k21-12"><use href="#DR" x="656" y="1102"/></g>
<g id="k22-1"><use href="#DL" x="84" y="1154"/></g><g id="k22-2"><use href="#DL" x="136" y="1154"/></g><g id="k22-3"><use href="#DL" x="188" y="1154"/></g><g id="k22-4"><use href="#YL" x="240" y="1154"/></g><g id="k22-5"><use href="#YL" x="292" y="1154"/></g><g id="k22-6"><use href="#YL" x="344" y="1154"/></g><g id="k22-7"><use href="#YL" x="396" y="1154"/></g><g id="k22-8"><use href="#YL" x="448" y="1154"/></g><g id="k22-9"><use href="#YL" x="500" y="1154"/></g><g id="k22-10"><use href="#DL" x="552" y="1154"/></g><g id="k22-11"><use href="#DL" x="604" y="1154"/></g><g id="k22-12"><use href="#DL" x="656" y="1154"/></g>
<g id="k23-1"><use href="#DR" x="84" y="1206"/></g><g id="k23-2"><use href="#DR" x="136" y="1206"/></g><g id="k23-3"><use href="#DR" x="188" y="1206"/></g><g id="k23-4"><use href="#DR" x="240" y="1206"/></g><g id="k23-5"><use href="#YR" x="292" y="1206"/></g><g id="k23-6"><use href="#YR" x="344" y="1206"/></g><g id="k23-7"><use href="#DR" x="396" y="1206"/></g><g id="k23-8"><use href="#DR" x="448" y="1206"/></g><g id="k23-9"><use href="#YR" x="500" y="1206"/></g><g id="k23-10"><use href="#YR" x="552" y="1206"/></g><g id="k23-11"><use href="#DR" x="604" y="1206"/></g><g id="k23-12"><use href="#DR" x="656" y="1206"/></g>
<g id="k24-1"><use href="#DL" x="84" y="1258"/></g><g id="k24-2"><use href="#DL" x="136" y="1258"/></g><g id="k24-3"><use href="#DL" x="188" y="1258"/></g><g id="k24-4"><use href="#DL" x="240" y="1258"/></g><g id="k24-5"><use href="#DL" x="292" y="1258"/></g><g id="k24-6"><use href="#YL" x="344" y="1258"/></g><g id="k24-7"><use href="#DL" x="396" y="1258"/></g><g id="k24-8"><use href="#DL" x="448" y="1258"/></g><g id="k24-9"><use href="#DL" x="500" y="1258"/></g><g id="k24-10"><use href="#DL" x="552" y="1258"/></g><g id="k24-11"><use href="#YL" x="604" y="1258"/></g><g id="k24-12"><use href="#DL" x="656" y="1258"/></g>
<g id="k25-1"><use href="#YR" x="84" y="1310"/></g><g id="k25-2"><use href="#YR" x="136" y="1310"/></g><g id="k25-3"><use href="#YR" x="188" y="1310"/></g><g id="k25-4"><use href="#YR" x="240" y="1310"/></g><g id="k25-5"><use href="#YR" x="292" y="1310"/></g><g id="k25-6"><use href="#YR" x="344" y="1310"/></g><g id="k25-7"><use href="#YR" x="396" y="1310"/></g><g id="k25-8"><use href="#YR" x="448" y="1310"/></g><g id="k25-9"><use href="#YR" x="500" y="1310"/></g><g id="k25-10"><use href="#YR" x="552" y="1310"/></g><g id="k25-11"><use href="#YR" x="604" y="1310"/></g><g id="k25-12"><use href="#YR" x="656" y="1310"/></g>
<g id="k26-1"><use href="#DL" x="84" y="1362"/></g><g id="k26-2"><use href="#DL" x="136" y="1362"/></g><g id="k26-3"><use href="#DL" x="188" y="1362"/></g><g id="k26-4"><use href="#DL" x="240" y="1362"/></g><g id="k26-5"><use href="#DL" x="292" y="1362"/></g><g id="k26-6"><use href="#DL" x="344" y="1362"/></g><g id="k26-7"><use href="#DL" x="396" y="1362"/></g><g id="k26-8"><use href="#DL" x="448" y="1362"/></g><g id="k26-9"><use href="#DL" x="500" y="1362"/></g><g id="k26-10"><use href="#DL" x="552" y="1362"/></g><g id="k26-11"><use href="#DL" x="604" y="1362"/></g><g id="k26-12"><use href="#DL" x="656" y="1362"/></g>
<g id="k27-1"><use href="#YR" x="84" y="1414"/></g><g id="k27-2"><use href="#YR" x="136" y="1414"/></g><g id="k27-3"><use href="#YR" x="188" y="1414"/></g><g id="k27-4"><use href="#YR" x="240" y="1414"/></g><g id="k27-5"><use href="#YR" x="292" y="1414"/></g><g id="k27-6"><use href="#YR" x="344" y="1414"/></g><g id="k27-7"><use href="#YR" x="396" y="1414"/></g><g id="k27-8"><use href="#YR" x="448" y="1414"/></g><g id="k27-9"><use href="#YR" x="500" y="1414"/></g><g id="k27-10"><use href="#YR" x="552" y="1414"/></g><g id="k27-11"><use href="#YR" x="604" y="1414"/></g><g id="k27-12"><use href="#YR" x="656" y="1414"/></g>
<g id="k28-1"><use href="#WL" x="84" y="1466"/></g><g id="k28-2"><use href="#WL" x="136" y="1466"/></g><g id="k28-3"><use href="#WL" x="188" y="1466"/></g><g id="k28-4"><use href="#WL" x="240" y="1466"/></g><g id="k28-5"><use href="#WL" x="292" y="1466"/></g><g id="k28-6"><use href="#WL" x="344" y="1466"/></g><g id="k28-7"><use href="#WL" x="396" y="1466"/></g><g id="k28-8"><use href="#WL" x="448" y="1466"/></g><g id="k28-9"><use href="#WL" x="500" y="1466"/></g><g id="k28-10"><use href="#WL" x="552" y="1466"/></g><g id="k28-11"><use href="#WL" x="604" y="1466"/></g><g id="k28-12"><use href="#WL" x="656" y="1466"/></g>
<g id="k29-1"><use href="#DR" x="84" y="1518"/></g><g id="k29-2"><use href="#DR" x="136" y="1518"/></g><g id="k29-3"><use href="#DR" x="188" y="1518"/></g><g id="k29-4"><use href="#DR" x="240" y="1518"/></g><g id="k29-5"><use href="#DR" x="292" y="1518"/></g><g id="k29-6"><use href="#DR" x="344" y="1518"/></g><g id="k29-7"><use href="#DR" x="396" y="1518"/></g><g id="k29-8"><use href="#DR" x="448" y="1518"/></g><g id="k29-9"><use href="#DR" x="500" y="1518"/></g><g id="k29-10"><use href="#DR" x="552" y="1518"/></g><g id="k29-11"><use href="#DR" x="604" y="1518"/></g><g id="k29-12"><use href="#DR" x="656" y="1518"/></g>
<g id="k30-1"><use href="#DL" x="84" y="1570"/></g><g id="k30-2"><use href="#DL" x="136" y="1570"/></g><g id="k30-3"><use href="#WL" x="188" y="1570"/></g><g id="k30-4"><use href="#DL" x="240" y="1570"/></g><g id="k30-5"><use href="#WL" x="292" y="1570"/></g><g id="k30-6"><use href="#WL" x="344" y="1570"/></g><g id="k30-7"><use href="#WL" x="396" y="1570"/></g><g id="k30-8"><use href="#DL" x="448" y="1570"/></g><g id="k30-9"><use href="#DL" x="500" y="1570"/></g><g id="k30-10"><use href="#DL" x="552" y="1570"/></g><g id="k30-11"><use href="#DL" x="604" y="1570"/></g><g id="k30-12"><use href="#WL" x="656" y="1570"/></g>
<g id="k31-1"><use href="#WR" x="84" y="1622"/></g><g id="k31-2"><use href="#WR" x="136" y="1622"/></g><g id="k31-3"><use href="#DR" x="188" y="1622"/></g><g id="k31-4"><use href="#DR" x="240" y="1622"/></g><g id="k31-5"><use href="#DR" x="292" y="1622"/></g><g id="k31-6"><use href="#WR" x="344" y="1622"/></g><g id="k31-7"><use href="#DR" x="396" y="1622"/></g><g id="k31-8"><use href="#WR" x="448" y="1622"/></g><g id="k31-9"><use href="#DR" x="500" y="1622"/></g><g id="k31-10"><use href="#WR" x="552" y="1622"/></g><g id="k31-11"><use href="#WR" x="604" y="1622"/></g><g id="k31-12"><use href="#DR" x="656" y="1622"/></g>
<g id="k32-1"><use href="#DL" x="84" y="1674"/></g><g id="k32-2"><use href="#DL" x="136" y="1674"/></g><g id="k32-3"><use href="#WL" x="188" y="1674"/></g><g id="k32-4"><use href="#DL" x="240" y="1674"/></g><g id="k32-5"><use href="#WL" x="292" y="1674"/></g><g id="k32-6"><use href="#WL" x="344" y="1674"/></g><g id="k32-7"><use href="#WL" x="396" y="1674"/></g><g id="k32-8"><use href="#DL" x="448" y="1674"/></g><g id="k32-9"><use href="#DL" x="500" y="1674"/></g><g id="k32-10"><use href="#DL" x="552" y="1674"/></g><g id="k32-11"><use href="#DL" x="604" y="1674"/></g><g id="k32-12"><use href="#WL" x="656" y="1674"/></g>
<g id="k33-1"><use href="#DR" x="84" y="1726"/></g><g id="k33-2"><use href="#DR" x="136" y="1726"/></g><g id="k33-3"><use href="#DR" x="188" y="1726"/></g><g id="k33-4"><use href="#DR" x="240" y="1726"/></g><g id="k33-5"><use href="#DR" x="292" y="1726"/></g><g id="k33-6"><use href="#DR" x="344" y="1726"/></g><g id="k33-7"><use href="#DR" x="396" y="1726"/></g><g id="k33-8"><use href="#DR" x="448" y="1726"/></g><g id="k33-9"><use href="#DR" x="500" y="1726"/></g><g id="k33-10"><use href="#DR" x="552" y="1726"/></g><g id="k33-11"><use href="#DR" x="604" y="1726"/></g><g id="k33-12"><use href="#DR" x="656" y="1726"/></g>
<g id="k34-1"><use href="#WL" x="84" y="1778"/></g><g id="k34-2"><use href="#WL" x="136" y="1778"/></g><g id="k34-3"><use href="#WL" x="188" y="1778"/></g><g id="k34-4"><use href="#WL" x="240" y="1778"/></g><g id="k34-5"><use href="#WL" x="292" y="1778"/></g><g id="k34-6"><use href="#WL" x="344" y="1778"/></g><g id="k34-7"><use href="#WL" x="396" y="1778"/></g><g id="k34-8"><use href="#WL" x="448" y="1778"/></g><g id="k34-9"><use href="#WL" x="500" y="1778"/></g><g id="k34-10"><use href="#WL" x="552" y="1778"/></g><g id="k34-11"><use href="#WL" x="604" y="1778"/></g><g id="k34-12"><use href="#WL" x="656" y="1778"/></g>
<g id="k35-1"><use href="#YR" x="84" y="1830"/></g><g id="k35-2"><use href="#YR" x="136" y="1830"/></g><g id="k35-3"><use href="#YR" x="188" y="1830"/></g><g id="k35-4"><use href="#YR" x="240" y="1830"/></g><g id="k35-5"><use href="#YR" x="292" y="1830"/></g><g id="k35-6"><use href="#YR" x="344" y="1830"/></g><g id="k35-7"><use href="#YR" x="396" y="1830"/></g><g id="k35-8"><use href="#YR" x="448" y="1830"/></g><g id="k35-9"><use href="#YR" x="500" y="1830"/></g><g id="k35-10"><use href="#YR" x="552" y="1830"/></g><g id="k35-11"><use href="#YR" x="604" y="1830"/></g><g id="k35-12"><use href="#YR" x="656" y="1830"/></g>
<g id="k36-1"><use href="#DL" x="84" y="1882"/></g><g id="k36-2"><use href="#DL" x="136" y="1882"/></g><g id="k36-3"><use href="#DL" x="188" y="1882"/></g><g id="k36-4"><use href="#DL" x="240" y="1882"/></g><g id="k36-5"><use href="#DL" x="292" y="1882"/></g><g id="k36-6"><use href="#DL" x="344" y="1882"/></g><g id="k36-7"><use href="#DL" x="396" y="1882"/></g><g id="k36-8"><use href="#DL" x="448" y="1882"/></g><g id="k36-9"><use href="#DL" x="500" y="1882"/></g><g id="k36-10"><use href="#DL" x="552" y="1882"/></g><g id="k36-11"><use href="#DL" x="604" y="1882"/></g><g id="k36-12"><use href="#DL" x="656" y="1882"/></g>
<g id="k37-1"><use href="#YR" x="84" y="1934"/></g><g id="k37-2"><use href="#YR" x="136" y="1934"/></g><g id="k37-3"><use href="#YR" x="188" y="1934"/></g><g id="k37-4"><use href="#YR" x="240" y="1934"/></g><g id="k37-5"><use href="#YR" x="292" y="1934"/></g><g id="k37-6"><use href="#YR" x="344" y="1934"/></g><g id="k37-7"><use href="#YR" x="396" y="1934"/></g><g id="k37-8"><use href="#YR" x="448" y="1934"/></g><g id="k37-9"><use href="#YR" x="500" y="1934"/></g><g id="k37-10"><use href="#YR" x="552" y="1934"/></g><g id="k37-11"><use href="#YR" x="604" y="1934"/></g><g id="k37-12"><use href="#YR" x="656" y="1934"/></g>
<g id="k38-1"><use href="#DL" x="84" y="1986"/></g><g id="k38-2"><use href="#DL" x="136" y="1986"/></g><g id="k38-3"><use href="#DL" x="188" y="1986"/></g><g id="k38-4"><use href="#DL" x="240" y="1986"/></g><g id="k38-5"><use href="#DL" x="292" y="1986"/></g><g id="k38-6"><use href="#YL" x="344" y="1986"/></g><g id="k38-7"><use href="#DL" x="396" y="1986"/></g><g id="k38-8"><use href="#DL" x="448" y="1986"/></g><g id="k38-9"><use href="#DL" x="500" y="1986"/></g><g id="k38-10"><use href="#DL" x="552" y="1986"/></g><g id="k38-11"><use href="#YL" x="604" y="1986"/></g><g id="k38-12"><use href="#DL" x="656" y="1986"/></g>
<g id="k39-1"><use href="#DR" x="84" y="2038"/></g><g id="k39-2"><use href="#DR" x="136" y="2038"/></g><g id="k39-3"><use href="#DR" x="188" y="2038"/></g><g id="k39-4"><use href="#DR" x="240" y="2038"/></g><g id="k39-5"><use href="#YR" x="292" y="2038"/></g><g id="k39-6"><use href="#YR" x="344" y="2038"/></g><g id="k39-7"><use href="#DR" x="396" y="2038"/></g><g id="k39-8"><use href="#DR" x="448" y="2038"/></g><g id="k39-9"><use href="#YR" x="500" y="2038"/></g><g id="k39-10"><use href="#YR" x="552" y="2038"/></g><g id="k39-11"><use href="#DR" x="604" y="2038"/></g><g id="k39-12"><use href="#DR" x="656" y="2038"/></g>
<g id="k40-1"><use href="#DL" x="84" y="2090"/></g><g id="k40-2"><use href="#DL" x="136" y="2090"/></g><g id="k40-3"><use href="#DL" x="188" y="2090"/></g><g id="k40-4"><use href="#YL" x="240" y="2090"/></g><g id="k40-5"><use href="#YL" x="292" y="2090"/></g><g id="k40-6"><use href="#YL" x="344" y="2090"/></g><g id="k40-7"><use href="#YL" x="396" y="2090"/></g><g id="k40-8"><use href="#YL" x="448" y="2090"/></g><g id="k40-9"><use href="#YL" x="500" y="2090"/></g><g id="k40-10"><use href="#DL" x="552" y="2090"/></g><g id="k40-11"><use href="#DL" x="604" y="2090"/></g><g id="k40-12"><use href="#DL" x="656" y="2090"/></g>
<g id="k41-1"><use href="#DR" x="84" y="2142"/></g><g id="k41-2"><use href="#DR" x="136" y="2142"/></g><g id="k41-3"><use href="#YR" x="188" y="2142"/></g><g id="k41-4"><use href="#YR" x="240" y="2142"/></g><g id="k41-5"><use href="#DR" x="292" y="2142"/></g><g id="k41-6"><use href="#YR" x="344" y="2142"/></g><g id="k41-7"><use href="#YR" x="396" y="2142"/></g><g id="k41-8"><use href="#YR" x="448" y="2142"/></g><g id="k41-9"><use href="#DR" x="500" y="2142"/></g><g id="k41-10"><use href="#DR" x="552" y="2142"/></g><g id="k41-11"><use href="#DR" x="604" y="2142"/></g><g id="k41-12"><use href="#DR" x="656" y="2142"/></g>
<g id="k42-1"><use href="#DL" x="84" y="2194"/></g><g id="k42-2"><use href="#YL" x="136" y="2194"/></g><g id="k42-3"><use href="#DL" x="188" y="2194"/></g><g id="k42-4"><use href="#DL" x="240" y="2194"/></g><g id="k42-5"><use href="#DL" x="292" y="2194"/></g><g id="k42-6"><use href="#YL" x="344" y="2194"/></g><g id="k42-7"><use href="#YL" x="396" y="2194"/></g><g id="k42-8"><use href="#DL" x="448" y="2194"/></g><g id="k42-9"><use href="#DL" x="500" y="2194"/></g><g id="k42-10"><use href="#DL" x="552" y="2194"/></g><g id="k42-11"><use href="#DL" x="604" y="2194"/></g><g id="k42-12"><use href="#DL" x="656" y="2194"/></g>
<g id="k43-1"><use href="#DR" x="84" y="2246"/></g><g id="k43-2"><use href="#DR" x="136" y="2246"/></g><g id="k43-3"><use href="#DR" x="188" y="2246"/></g><g id="k43-4"><use href="#DR" x="240" y="2246"/></g><g id="k43-5"><use href="#DR" x="292" y="2246"/></g><g id="k43-6"><use href="#YR" x="344" y="2246"/></g><g id="k43-7"><use href="#DR" x="396" y="2246"/></g><g id="k43-8"><use href="#DR" x="448" y="2246"/></g><g id="k43-9"><use href="#DR" x="500" y="2246"/></g><g id="k43-10"><use href="#DR" x="552" y="2246"/></g><g id="k43-11"><use href="#DR" x="604" y="2246"/></g><g id="k43-12"><use href="#DR" x="656" y="2246"/></g>
<g id="k44-1"><use href="#DL" x="84" y="2298"/></g><g id="k44-2"><use href="#YL" x="136" y="2298"/></g><g id="k44-3"><use href="#YL" x="188" y="2298"/></g><g id="k44-4"><use href="#YL" x="240" y="2298"/></g><g id="k44-5"><use href="#YL" x="292" y="2298"/></g><g id="k44-6"><use href="#YL" x="344" y="2298"/></g><g id="k44-7"><use href="#YL" x="396" y="2298"/></g><g id="k44-8"><use href="#YL" x="448" y="2298"/></g><g id="k44-9"><use href="#DL" x="500" y="2298"/></g><g id="k44-10"><use href="#DL" x="552" y="2298"/></g><g id="k44-11"><use href="#DL" x="604" y="2298"/></g><g id="k44-12"><use href="#DL" x="656" y="2298"/></g>
<g id="k45-1"><use href="#YR" x="84" y="2350"/></g><g id="k45-2"><use href="#YR" x="136" y="2350"/></g><g id="k45-3"><use href="#DR" x="188" y="2350"/></g><g id="k45-4"><use href="#DR" x="240" y="2350"/></g><g id="k45-5"><use href="#DR" x="292" y="2350"/></g><g id="k45-6"><use href="#DR" x="344" y="2350"/></g><g id="k45-7"><use href="#DR" x="396" y="2350"/></g><g id="k45-8"><use href="#YR" x="448" y="2350"/></g><g id="k45-9"><use href="#YR" x="500" y="2350"/></g><g id="k45-10"><use href="#DR" x="552" y="2350"/></g><g id="k45-11"><use href="#DR" x="604" y="2350"/></g><g id="k45-12"><use href="#DR" x="656" y="2350"/></g>
<g id="k46-1"><use href="#YL" x="84" y="2402"/></g><g id="k46-2"><use href="#DL" x="136" y="2402"/></g><g id="k46-3"><use href="#WL" x="188" y="2402"/></g><g id="k46-4"><use href="#DL" x="240" y="2402"/></g><g id="k46-5"><use href="#WL" x="292" y="2402"/></g><g id="k46-6"><use href="#DL" x="344" y="2402"/></g><g id="k46-7"><use href="#WL" x="396" y="2402"/></g><g id="k46-8"><use href="#DL" x="448" y="2402"/></g><g id="k46-9"><use href="#YL" x="500" y="2402"/></g><g id="k46-10"><use href="#DL" x="552" y="2402"/></g><g id="k46-11"><use href="#DL" x="604" y="2402"/></g><g id="k46-12"><use href="#DL" x="656" y="2402"/></g>
<g id="k47-1"><use href="#YR" x="84" y="2454"/></g><g id="k47-2"><use href="#DR" x="136" y="2454"/></g><g id="k47-3"><use href="#WR" x="188" y="2454"/></g><g id="k47-4"><use href="#DR" x="240" y="2454"/></g><g id="k47-5"><use href="#WR" x="292" y="2454"/></g><g id="k47-6"><use href="#DR" x="344" y="2454"/></g><g id="k47-7"><use href="#WR" x="396" y="2454"/></g><g id="k47-8"><use href="#DR" x="448" y="2454"/></g><g id="k47-9"><use href="#YR" x="500" y="2454"/></g><g id="k47-10"><use href="#YR" x="552" y="2454"/></g><g id="k47-11"><use href="#YR" x="604" y="2454"/></g><g id="k47-12"><use href="#DR" x="656" y="2454"/></g>
<g id="k48-1"><use href="#YL" x="84" y="2506"/></g><g id="k48-2"><use href="#DL" x="136" y="2506"/></g><g id="k48-3"><use href="#DL" x="188" y="2506"/></g><g id="k48-4"><use href="#WL" x="240" y="2506"/></g><g id="k48-5"><use href="#DL" x="292" y="2506"/></g><g id="k48-6"><use href="#WL" x="344" y="2506"/></g><g id="k48-7"><use href="#DL" x="396" y="2506"/></g><g id="k48-8"><use href="#DL" x="448" y="2506"/></g><g id="k48-9"><use href="#DL" x="500" y="2506"/></g><g id="k48-10"><use href="#DL" x="552" y="2506"/></g><g id="k48-11"><use href="#YL" x="604" y="2506"/></g><g id="k48-12"><use href="#YL" x="656" y="2506"/></g>
<g id="k49-1"><use href="#YR" x="84" y="2558"/></g><g id="k49-2"><use href="#DR" x="136" y="2558"/></g><g id="k49-3"><use href="#WR" x="188" y="2558"/></g><g id="k49-4"><use href="#WR" x="240" y="2558"/></g><g id="k49-5"><use href="#WR" x="292" y="2558"/></g><g id="k49-6"><use href="#WR" x="344" y="2558"/></g><g id="k49-7"><use href="#WR" x="396" y="2558"/></g><g id="k49-8"><use href="#WR" x="448" y="2558"/></g><g id="k49-9"><use href="#WR" x="500" y="2558"/></g><g id="k49-10"><use href="#WR" x="552" y="2558"/></g><g id="k49-11"><use href="#DR" x="604" y="2558"/></g><g id="k49-12"><use href="#YR" x="656" y="2558"/></g>
<g id="k50-1"><use href="#YL" x="84" y="2610"/></g><g id="k50-2"><use href="#DL" x="136" y="2610"/></g><g id="k50-3"><use href="#WL" x="188" y="2610"/></g><g id="k50-4"><use href="#WL" x="240" y="2610"/></g><g id="k50-5"><use href="#WL" x="292" y="2610"/></g><g id="k50-6"><use href="#WL" x="344" y="2610"/></g><g id="k50-7"><use href="#WL" x="396" y="2610"/></g><g id="k50-8"><use href="#WL" x="448" y="2610"/></g><g id="k50-9"><use href="#DL" x="500" y="2610"/></g><g id="k50-10"><use href="#DL" x="552" y="2610"/></g><g id="k50-11"><use href="#DL" x="604" y="2610"/></g><g id="k50-12"><use href="#YL" x="656" y="2610"/></g>
<g id="k51-1"><use href="#YR" x="84" y="2662"/></g><g id="k51-2"><use href="#DR" x="136" y="2662"/></g><g id="k51-3"><use href="#WR" x="188" y="2662"/></g><g id="k51-4"><use href="#WR" x="240" y="2662"/></g><g id="k51-5"><use href="#WR" x="292" y="2662"/></g><g id="k51-6"><use href="#WR" x="344" y="2662"/></g><g id="k51-7"><use href="#DR" x="396" y="2662"/></g><g id="k51-8"><use href="#DR" x="448" y="2662"/></g><g id="k51-9"><use href="#YR" x="500" y="2662"/></g><g id="k51-10"><use href="#YR" x="552" y="2662"/></g><g id="k51-11"><use href="#YR" x="604" y="2662"/></g><g id="k51-12"><use href="#YR" x="656" y="2662"/></g>
<g id="k52-1"><use href="#YL" x="84" y="2714"/></g><g id="k52-2"><use href="#DL" x="136" y="2714"/></g><g id="k52-3"><use href="#DL" x="188" y="2714"/></g><g id="k52-4"><use href="#DL" x="240" y="2714"/></g><g id="k52-5"><use href="#DL" x="292" y="2714"/></g><g id="k52-6"><use href="#DL" x="344" y="2714"/></g><g id="k52-7"><use href="#YL" x="396" y="2714"/></g><g id="k52-8"><use href="#YL" x="448" y="2714"/></g><g id="k52-9"><use href="#YL" x="500" y="2714"/></g><g id="k52-10"><use href="#DL" x="552" y="2714"/></g><g id="k52-11"><use href="#DL" x="604" y="2714"/></g><g id="k52-12"><use href="#DL" x="656" y="2714"/></g>
<g id="k53-1"><use href="#YR" x="84" y="2766"/></g><g id="k53-2"><use href="#DR" x="136" y="2766"/></g><g id="k53-3"><use href="#DR" x="188" y="2766"/></g><g id="k53-4"><use href="#DR" x="240" y="2766"/></g><g id="k53-5"><use href="#DR" x="292" y="2766"/></g><g id="k53-6"><use href="#DR" x="344" y="2766"/></g><g id="k53-7"><use href="#DR" x="396" y="2766"/></g><g id="k53-8"><use href="#YR" x="448" y="2766"/></g><g id="k53-9"><use href="#YR" x="500" y="2766"/></g><g id="k53-10"><use href="#DR" x="552" y="2766"/></g><g id="k53-11"><use href="#DR" x="604" y="2766"/></g><g id="k53-12"><use href="#DR" x="656" y="2766"/></g>
<g id="k54-1"><use href="#YL" x="84" y="2818"/></g><g id="k54-2"><use href="#DL" x="136" y="2818"/></g><g id="k54-3"><use href="#WL" x="188" y="2818"/></g><g id="k54-4"><use href="#DL" x="240" y="2818"/></g><g id="k54-5"><use href="#WL" x="292" y="2818"/></g><g id="k54-6"><use href="#DL" x="344" y="2818"/></g><g id="k54-7"><use href="#WL" x="396" y="2818"/></g><g id="k54-8"><use href="#DL" x="448" y="2818"/></g><g id="k54-9"><use href="#YL" x="500" y="2818"/></g><g id="k54-10"><use href="#DL" x="552" y="2818"/></g><g id="k54-11"><use href="#DL" x="604" y="2818"/></g><g id="k54-12"><use href="#DL" x="656" y="2818"/></g>
<g id="k55-1"><use href="#YR" x="84" y="2870"/></g><g id="k55-2"><use href="#DR" x="136" y="2870"/></g><g id="k55-3"><use href="#WR" x="188" y="2870"/></g><g id="k55-4"><use href="#WR" x="240" y="2870"/></g><g id="k55-5"><use href="#WR" x="292" y="2870"/></g><g id="k55-6"><use href="#WR" x="344" y="2870"/></g><g id="k55-7"><use href="#WR" x="396" y="2870"/></g><g id="k55-8"><use href="#DR" x="448" y="2870"/></g><g id="k55-9"><use href="#YR" x="500" y="2870"/></g><g id="k55-10"><use href="#YR" x="552" y="2870"/></g><g id="k55-11"><use href="#YR" x="604" y="2870"/></g><g id="k55-12"><use href="#DR" x="656" y="2870"/></g>
<g id="k56-1"><use href="#YL" x="84" y="2922"/></g><g id="k56-2"><use href="#DL" x="136" y="2922"/></g><g id="k56-3"><use href="#WL" x="188" y="2922"/></g><g id="k56-4"><use href="#WL" x="240" y="2922"/></g><g id="k56-5"><use href="#WL" x="292" y="2922"/></g><g id="k56-6"><use href="#WL" x="344" y="2922"/></g><g id="k56-7"><use href="#WL" x="396" y="2922"/></g><g id="k56-8"><use href="#DL" x="448" y="2922"/></g><g id="k56-9"><use href="#DL" x="500" y="2922"/></g><g id="k56-10"><use href="#DL" x="552" y="2922"/></g><g id="k56-11"><use href="#YL" x="604" y="2922"/></g><g id="k56-12"><use href="#YL" x="656" y="2922"/></g>
<g id="k57-1"><use href="#YR" x="84" y="2974"/></g><g id="k57-2"><use href="#DR" x="136" y="2974"/></g><g id="k57-3"><use href="#WR" x="188" y="2974"/></g><g id="k57-4"><use href="#WR" x="240" y="2974"/></g><g id="k57-5"><use href="#WR" x="292" y="2974"/></g><g id="k57-6"><use href="#WR" x="344" y="2974"/></g><g id="k57-7"><use href="#WR" x="396" y="2974"/></g><g id="k57-8"><use href="#WR" x="448" y="2974"/></g><g id="k57-9"><use href="#WR" x="500" y="2974"/></g><g id="k57-10"><use href="#WR" x="552" y="2974"/></g><g id="k57-11"><use href="#DR" x="604" y="2974"/></g><g id="k57-12"><use href="#YR" x="656" y="2974"/></g>
<g id="k58-1"><use href="#YL" x="84" y="3026"/></g><g id="k58-2"><use href="#DL" x="136" y="3026"/></g><g id="k58-3"><use href="#WL" x="188" y="3026"/></g><g id="k58-4"><use href="#WL" x="240" y="3026"/></g><g id="k58-5"><use href="#WL" x="292" y="3026"/></g><g id="k58-6"><use href="#WL" x="344" y="3026"/></g><g id="k58-7"><use href="#WL" x="396" y="3026"/></g><g id="k58-8"><use href="#WL" x="448" y="3026"/></g><g id="k58-9"><use href="#DL" x="500" y="3026"/></g><g id="k58-10"><use href="#DL" x="552" y="3026"/></g><g id="k58-11"><use href="#DL" x="604" y="3026"/></g><g id="k58-12"><use href="#YL" x="656" y="3026"/></g>
<g id="k59-1"><use href="#YR" x="84" y="3078"/></g><g id="k59-2"><use href="#DR" x="136" y="3078"/></g><g id="k59-3"><use href="#WR" x="188" y="3078"/></g><g id="k59-4"><use href="#WR" x="240" y="3078"/></g><g id="k59-5"><use href="#WR" x="292" y="3078"/></g><g id="k59-6"><use href="#WR" x="344" y="3078"/></g><g id="k59-7"><use href="#DR" x="396" y="3078"/></g><g id="k59-8"><use href="#DR" x="448" y="3078"/></g><g id="k59-9"><use href="#YR" x="500" y="3078"/></g><g id="k59-10"><use href="#YR" x="552" y="3078"/></g><g id="k59-11"><use href="#YR" x="604" y="3078"/></g><g id="k59-12"><use href="#YR" x="656" y="3078"/></g>
<g id="k60-1"><use href="#YL" x="84" y="3130"/></g><g id="k60-2"><use href="#DL" x="136" y="3130"/></g><g id="k60-3"><use href="#DL" x="188" y="3130"/></g><g id="k60-4"><use href="#DL" x="240" y="3130"/></g><g id="k60-5"><use href="#DL" x="292" y="3130"/></g><g id="k60-6"><use href="#DL" x="344" y="3130"/></g><g id="k60-7"><use href="#YL" x="396" y="3130"/></g><g id="k60-8"><use href="#YL" x="448" y="3130"/></g><g id="k60-9"><use href="#YL" x="500" y="3130"/></g><g id="k60-10"><use href="#YL" x="552" y="3130"/></g><g id="k60-11"><use href="#DL" x="604" y="3130"/></g><g id="k60-12"><use href="#DL" x="656" y="3130"/></g>
<g id="k61-1"><use href="#YR" x="84" y="3182"/></g><g id="k61-2"><use href="#DR" x="136" y="3182"/></g><g id="k61-3"><use href="#DR" x="188" y="3182"/></g><g id="k61-4"><use href="#DR" x="240" y="3182"/></g><g id="k61-5"><use href="#DR" x="292" y="3182"/></g><g id="k61-6"><use href="#DR" x="344" y="3182"/></g><g id="k61-7"><use href="#YR" x="396" y="3182"/></g><g id="k61-8"><use href="#YR" x="448" y="3182"/></g><g id="k61-9"><use href="#DR" x="500" y="3182"/></g><g id="k61-10"><use href="#DR" x="552" y="3182"/></g><g id="k61-11"><use href="#DR" x="604" y="3182"/></g><g id="k61-12"><use href="#DR" x="656" y="3182"/></g>
</g>
<text class="wm" x="372" y="1656" text-anchor="middle" textLength="157" lengthAdjust="spacingAndGlyphs">BRACELETBOOK.COM</text>
</svg>
